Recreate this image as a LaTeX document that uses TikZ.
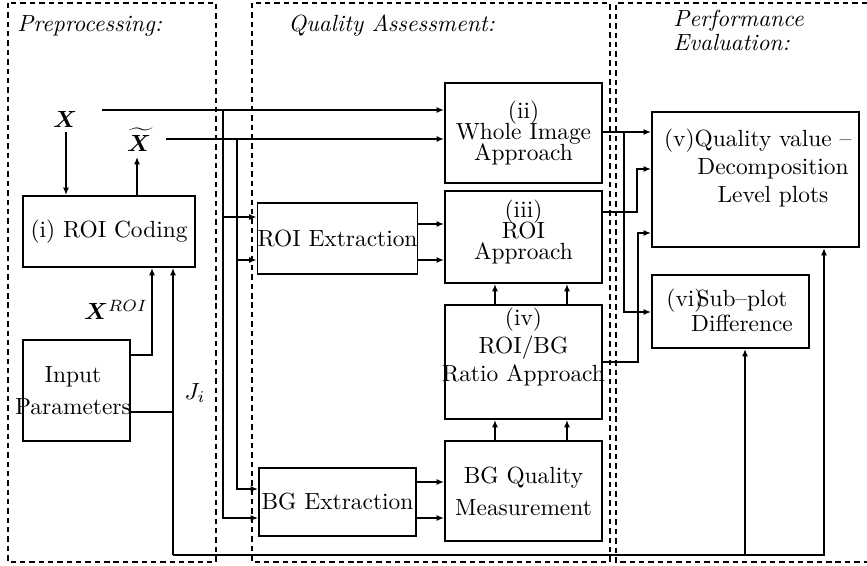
\documentclass[tikz,border=0pt]{standalone}
\usepackage{amsmath,bm}
\usetikzlibrary{arrows.meta}
\begin{document}
\begin{tikzpicture}[x=0.4274pt,y=-0.4274pt,
 bx/.style 2 args={draw,line width=0.8pt,minimum width=#1*0.4274pt,minimum height=#2*0.4274pt,inner sep=0pt,align=center},
 txt/.style={inner sep=0pt,align=center},
 ln/.style={line width=0.8pt},
 ar/.style={line width=0.8pt,-{Latex[length=3.2pt,width=2.6pt]}},
 region/.style={line width=0.8pt,dash pattern=on 2.3pt off 1.7pt},
 ttl/.style={font=\itshape,inner sep=0pt,align=left}]
\useasboundingbox (0,0) rectangle (867,566);
% regions
\draw[region] (8,3) rectangle (216,562);
\draw[region] (252,3) rectangle (610,562);
\draw[region] (867,3) -- (616,3) -- (616,562) -- (867,562);
\node[ttl,anchor=base west] (tpre) at (17,32) {Preprocessing:};
\node[ttl,anchor=base west] (tqa) at (288,32) {Quality Assessment:};
\node[ttl,anchor=north west] (tpe) at (673,10) {Performance\\[-2pt]Evaluation:};
% boxes
\node[bx={172}{71}] (roic) at (109,231.5) {(i) ROI Coding};
\node[bx={107}{101}] (inp) at (76.5,390.5) {};
\node[txt] (inpt) at (73,391) {Input\\[1.7pt]Parameters};
\node[bx={157}{71}] (roie) at (337.5,238.5) {ROI Extraction};
\node[bx={157}{68}] (bge) at (337.5,502) {BG Extraction};
\node[bx={157}{100}] (whole) at (523.5,133) {(ii)\\[-3pt]Whole Image\\[-3pt]Approach};
\node[bx={157}{92}] (roia) at (523.5,237) {};
\node[txt] (roiat) at (523.5,232) {(iii)\\[-3pt]ROI\\[-3pt]Approach};
\node[bx={157}{114}] (ratio) at (523.5,362) {};
\node[txt] (ratiot) at (523.5,347) {(iv)\\ROI/BG\\Ratio Approach};
\node[bx={157}{100}] (bgq) at (523.5,491) {BG Quality\\[1.7pt]Measurement};
\node[bx={207}{135}] (qv) at (755.5,179.5) {};
\node[txt] (qvt) at (773,168) {\llap{(v)}Quality value --\\Decomposition\\Level plots};
\node[bx={157}{73}] (sub) at (730.5,311.5) {};
\node[txt] (subt) at (742,310) {\llap{(vi)\kern-3pt}Sub--plot\\[-1.3pt]Difference};
% labels
\node[txt] (X) at (65,119) {$\bm{X}$};
\node[txt] (Xt) at (139,140) {$\widetilde{\bm{X}}$};
\node[txt] (xroi) at (116,310) {$\bm{X}^{ROI}$};
\node[txt] (ji) at (195,393) {$J_i$};
% connectors
\coordinate (xs) at (102,110);
\coordinate (xts) at (166,139);
\coordinate (v1) at (223,110);
\coordinate (v2) at (237,139);
\draw[ar] (xs) -- (whole.west |- xs);
\draw[ar] (xts) -- (whole.west |- xts);
\draw[ar] (v1) |- (bge.west |- 0,518);
\draw[ar] (v1 |- 0,217) -- (roie.west |- 0,217);
\draw[ar] (v2) |- (bge.west |- 0,489);
\draw[ar] (v2 |- 0,260) -- (roie.west |- 0,260);
\draw[ar] (roie.east |- 0,224) -- (roia.west |- 0,224);
\draw[ar] (roie.east |- 0,260) -- (roia.west |- 0,260);
\draw[ar] (bge.east |- 0,482) -- (bgq.west |- 0,482);
\draw[ar] (bge.east |- 0,518) -- (bgq.west |- 0,518);
\draw[ar] (bgq.north -| 495,0) -- (ratio.south -| 495,0);
\draw[ar] (bgq.north -| 567,0) -- (ratio.south -| 567,0);
\draw[ar] (ratio.north -| 495,0) -- (roia.south -| 495,0);
\draw[ar] (ratio.north -| 567,0) -- (roia.south -| 567,0);
\draw[ar,shorten <=2pt] (X.south -| 66,0) -- (roic.north -| 66,0);
\draw[ar,shorten >=2pt] (roic.north -| 137,0) -- (Xt.south -| 137,0);
\draw[ar] (inp.east |- 0,355) -| (roic.south -| 152,0);
\coordinate (jb) at (173,555);
\draw[ln] (inp.east |- 0,412) -- (jb |- 0,412);
\draw[ar] (jb) -- (roic.south -| jb);
\draw[ar] (jb) -| (qv.south -| 824,0);
\draw[ar] (jb -| 745,0) -- (sub.south -| 745,0);
\draw[ar] (whole.east |- 0,132) -- (qv.west |- 0,132);
\draw[ar] (624,132) |- (sub.west |- 0,312);
\draw[ar] (roia.east |- 0,212) -- (637,212) |- (qv.west |- 0,169);
\draw[ar] (ratio.east |- 0,362) -- (638,362) |- (qv.west |- 0,233);
\end{tikzpicture}
\end{document}
